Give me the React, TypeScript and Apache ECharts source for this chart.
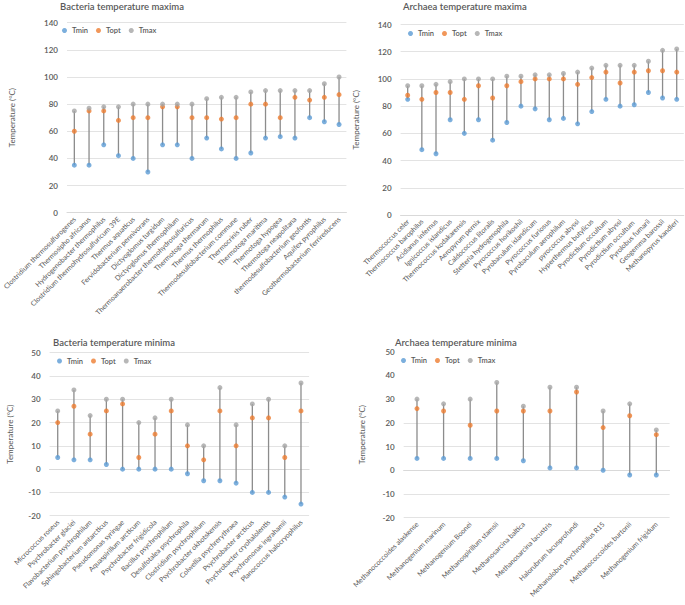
import React, { useEffect, useRef } from "react";
import * as echarts from "echarts";

// ---------- Data ----------
const bacMaxCategories = [
  "Clostridium thermosulfurogenes",
  "Thermosipho africanus",
  "Hydrogenobacter thermophilus",
  "Clostridium thermohydrosulfuricum 39E",
  "Thermus aquaticus",
  "Fervidobacterium pennivorans",
  "Dictyoglomus turgidum",
  "Dictyoglomus thermophilum",
  "Thermoanaerobacter thermohydrosulfuricus",
  "Thermotoga thermarum",
  "Thermus thermophilus",
  "Thermodesulfobacterium commune",
  "Thermocrinis ruber",
  "Thermotoga maritima",
  "Thermotoga hypogea",
  "Thermotoga neapolitana",
  "thermodesulfobacterium geofontis",
  "Aquifex pyrophilus",
  "Geothermobacterium ferrireducens",
];
const bacMaxTmin = [35, 35, 50, 42, 40, 30, 50, 50, 40, 55, 47, 40, 44, 55, 56, 55, 70, 67, 65];
const bacMaxTopt = [60, 75, 75, 68, 70, 70, 78, 78, 70, 70, 69, 70, 80, 80, 70, 85, 83, 85, 87];
const bacMaxTmax = [75, 77, 78, 78, 80, 80, 80, 80, 80, 84, 85, 85, 89, 90, 90, 90, 90, 95, 100];

const arcMaxCategories = [
  "Thermococcus celer",
  "Thermococcus barophilus",
  "Acidianus infernus",
  "Ignicoccus islandicus",
  "Thermococcus kodakarensis",
  "Aeropyrum pernix",
  "Caldococcus litoralis",
  "Stetteria hydrogenophila",
  "Pyrococcus horikoshii",
  "Pyrobaculum islandicum",
  "Pyrococcus furiosus",
  "Pyrobaculum aerophilum",
  "pyrococcus abyssi",
  "Hyperthermus butylicus",
  "Pyrodictium occultum",
  "Pyrodictium abyssi",
  "Pyrodictium occultum ",
  "Pyrolobus fumarii",
  "Geogemma barossii",
  "Methanopyrus kandleri",
];
const arcMaxTmin = [85, 48, 45, 70, 60, 70, 55, 68, 80, 78, 70, 71, 67, 76, 85, 80, 81, 90, 86, 85];
const arcMaxTopt = [88, 85, 90, 90, 85, 95, 86, 95, 98, 100, 100, 100, 96, 101, 105, 97, 105, 106, 106, 105];
const arcMaxTmax = [95, 95, 96, 98, 100, 100, 100, 102, 102, 103, 103, 104, 105, 108, 110, 110, 110, 113, 121, 122];

const bacMinCategories = [
  "Micrococcus roseus",
  "Psychrobacter glaciei",
  "Flavobacterium psychrophilum",
  "Sphingobacterium antarcticus",
  "Pseudomonas syringae",
  "Aquaspirillum arcticum",
  "Psychrobacter frigidicola",
  "Bacillus psychrophilum",
  "Desulfotalea psychrophila",
  "Clostridium psychrophilum",
  "Psychrobacter okhotskensis",
  "Colwellia psychrerythraea",
  "Psychrobacter arcticus",
  "Psychrobacter cryohalolentis",
  "Psychromonas ingrahamii",
  "Planococcus halocryophilus",
];
const bacMinTmin = [5, 4, 4, 2, 0, 0, 0, 0, -2, -5, -5, -6, -10, -10, -12, -15];
const bacMinTopt = [20, 27, 15, 25, 28, 5, 15, 25, 10, 4, 25, 10, 22, 22, 5, 25];
const bacMinTmax = [25, 34, 23, 30, 30, 20, 22, 30, 19, 10, 35, 19, 28, 30, 10, 37];

const arcMinCategories = [
  "Methanococcoides alaskense",
  "Methanogenium marinum",
  "Methanogenium Boonei",
  "Methanospirillum stamsii",
  "Methanosarcina baltica",
  "Methanosarcina lacustris",
  "Halorubrum lacusprofundi",
  "Methanolobus psychrophilus R15",
  "Methanococcoides burtonii",
  "Methanogenium frigidum",
];
const arcMinTmin = [5, 5, 5, 5, 4, 1, 1, 0, -2, -2];
const arcMinTopt = [26, 25, 19, 25, 25, 25, 33, 18, 23, 15];
const arcMinTmax = [30, 28, 30, 37, 27, 35, 35, 25, 28, 17];

const titles = [
  "Bacteria temperature maxima",
  "Archaea temperature maxima",
  "Bacteria temperature minima",
  "Archaea temperature minima",
];
const seriesNames = ["Tmin", "Topt", "Tmax"];
const seriesColors = ["#5b9bd5", "#ed7d31", "#a5a5a5"];
const yTitle = "Temperature (\u00b0C)";

const FONT = "Lato, 'Noto Sans', sans-serif";
const TEXT = "#595959";
const GRID_LINE = "#e3e3e3";
const NO_LINE = "rgba(0,0,0,0)";

const panels = [
  {
    cats: bacMaxCategories, mins: bacMaxTmin, opts: bacMaxTopt, maxs: bacMaxTmax,
    grid: { left: 64.6, top: 22.7, width: 281.8, height: 190 },
    y: { min: 0, max: 140, interval: 20 }, nameGap: 51,
    splitColors: [GRID_LINE],
    titlePos: { left: 60, top: 1 }, legendPos: { left: 62, top: 26.5 },
  },
  {
    cats: arcMaxCategories, mins: arcMaxTmin, opts: arcMaxTopt, maxs: arcMaxTmax,
    grid: { left: 400.6, top: 24.5, width: 283.2, height: 190.5 },
    y: { min: 0, max: 140, interval: 20 }, nameGap: 41,
    splitColors: [GRID_LINE],
    titlePos: { left: 403, top: 1 }, legendPos: { left: 408, top: 29.5 },
  },
  {
    cats: bacMinCategories, mins: bacMinTmin, opts: bacMinTopt, maxs: bacMinTmax,
    grid: { left: 49.6, top: 352.7, width: 259.5, height: 163 },
    y: { min: -20, max: 50, interval: 10 }, nameGap: 36,
    splitColors: [GRID_LINE],
    titlePos: { left: 53, top: 337 }, legendPos: { left: 57, top: 357 },
  },
  {
    cats: arcMinCategories, mins: arcMinTmin, opts: arcMinTopt, maxs: arcMinTmax,
    grid: { left: 403.7, top: 351.7, width: 265.9, height: 166 },
    y: { min: -20, max: 50, interval: 10 }, nameGap: 38,
    splitColors: [GRID_LINE, GRID_LINE, GRID_LINE, GRID_LINE, GRID_LINE, NO_LINE, NO_LINE, NO_LINE],
    titlePos: { left: 395, top: 337 }, legendPos: { left: 401, top: 356.5 },
  },
];

export default function App() {
  const ref = useRef<HTMLDivElement>(null);

  useEffect(() => {
    if (!ref.current) return;
    const chart = echarts.init(ref.current, null, { renderer: "svg" });

    const title: any[] = [];
    const legend: any[] = [];
    const grid: any[] = [];
    const xAxis: any[] = [];
    const yAxis: any[] = [];
    const series: any[] = [];

    panels.forEach((p, i) => {
      title.push({
        text: titles[i],
        left: p.titlePos.left,
        top: p.titlePos.top,
        padding: 0,
        textStyle: { fontFamily: FONT, fontSize: 9.5, fontWeight: 600, color: TEXT },
      });
      legend.push({
        left: p.legendPos.left,
        top: p.legendPos.top,
        padding: 0,
        itemGap: 8,
        itemWidth: 5,
        itemHeight: 5,
        icon: "circle",
        data: seriesNames,
        textStyle: { fontFamily: FONT, fontSize: 7.5, fontWeight: 600, color: TEXT },
      });
      grid.push({ ...p.grid, containLabel: false });
      xAxis.push({
        type: "category",
        gridIndex: i,
        data: p.cats,
        boundaryGap: true,
        axisLine: { show: true, lineStyle: { color: "#d9d9d9", width: 1 } },
        axisTick: { show: false },
        axisLabel: {
          interval: 0,
          rotate: 45,
          fontSize: 7,
          fontFamily: FONT,
          color: TEXT,
          margin: 5,
        },
        splitLine: { show: false },
      });
      yAxis.push({
        type: "value",
        gridIndex: i,
        min: p.y.min,
        max: p.y.max,
        interval: p.y.interval,
        name: yTitle,
        nameLocation: "middle",
        nameGap: p.nameGap,
        nameTextStyle: { fontFamily: FONT, fontSize: 8, color: TEXT },
        axisLine: { show: false },
        axisTick: { show: false },
        axisLabel: { fontSize: 8, fontFamily: FONT, fontWeight: 600, color: TEXT, margin: 9 },
        splitLine: { show: true, lineStyle: { color: p.splitColors, width: 1 } },
      });

      series.push({
        type: "custom",
        xAxisIndex: i,
        yAxisIndex: i,
        silent: true,
        encode: { x: 0, y: [1, 2] },
        data: p.cats.map((_, k) => [k, p.mins[k], p.maxs[k]]),
        renderItem: (params: any, api: any) => {
          const a = api.coord([api.value(0), api.value(1)]);
          const b = api.coord([api.value(0), api.value(2)]);
          return {
            type: "line",
            shape: { x1: a[0], y1: a[1], x2: b[0], y2: b[1] },
            style: { stroke: "#8c8c8c", lineWidth: 1.3 },
          };
        },
        z: 1,
      });

      const vals = [p.mins, p.opts, p.maxs];
      seriesNames.forEach((name, s) => {
        series.push({
          type: "scatter",
          name,
          xAxisIndex: i,
          yAxisIndex: i,
          symbol: "circle",
          symbolSize: 5,
          silent: true,
          itemStyle: { color: seriesColors[s] },
          data: p.cats.map((c, k) => [c, vals[s][k]]),
          z: 3,
        });
      });
    });

    chart.setOption({
      animation: false,
      backgroundColor: "#ffffff",
      title,
      legend,
      grid,
      xAxis,
      yAxis,
      series,
    });

    return () => chart.dispose();
  }, []);

  return (
    <div
      ref={ref}
      style={{ position: "fixed", left: 0, top: 0, width: 685, height: 605, background: "#fff" }}
    />
  );
}
